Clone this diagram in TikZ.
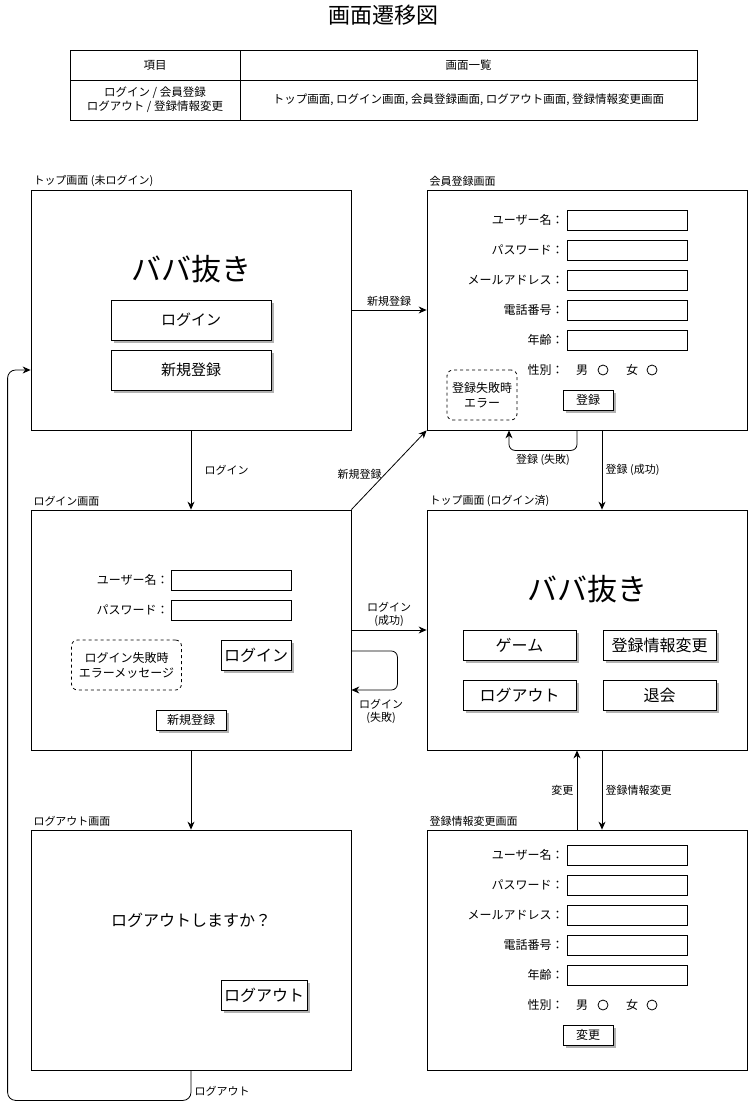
\documentclass[tikz,border=0pt]{standalone}
\usepackage{fontspec}
\setmainfont{Noto Sans CJK JP}
\usetikzlibrary{arrows.meta,shadows}

\begin{document}
\begin{tikzpicture}[x=1pt,y=-1pt,line width=0.8pt,
    >={Stealth[length=8pt,width=7pt]},
    screen/.style={draw,minimum width=320,minimum height=240},
    scrtitle/.style={font=\fontsize{11}{13}\selectfont,anchor=south west,inner sep=2.5pt},
    btn/.style={draw,fill=white,inner sep=0pt,
      drop shadow={shadow xshift=3pt,shadow yshift=-3pt,fill=black!30,opacity=1}},
    field/.style={draw,minimum width=120,minimum height=20,inner sep=0pt},
    flabel/.style={font=\fontsize{12}{14}\selectfont,anchor=east,inner sep=1pt},
    errbox/.style={draw,dashed,rounded corners=6pt,align=center,font=\fontsize{12}{15}\selectfont},
    lbl/.style={font=\fontsize{11}{13}\selectfont,align=center},
    cell/.style={draw,font=\fontsize{11.5}{14}\selectfont,align=center,inner sep=0pt}]
    \useasboundingbox (0,0) rectangle (748,1109);
    \node[font=\fontsize{22}{26}\selectfont] (title) at (383,15) {画面遷移図};
    % table
    \node[cell,minimum width=170,minimum height=30] (c11) at (155,65) {項目};
    \node[cell,minimum width=457,minimum height=30] (c12) at (468.5,65) {画面一覧};
    \node[cell,minimum width=170,minimum height=40] (c21) at (155,100) {ログイン / 会員登録\\ログアウト / 登録情報変更};
    \node[cell,minimum width=457,minimum height=40] (c22) at (468.5,100) {トップ画面, ログイン画面, 会員登録画面, ログアウト画面, 登録情報変更画面};
    % screens
    \node[screen] (top) at (191,310) {};
    \node[screen] (reg) at (587,310) {};
    \node[screen] (login) at (191,630) {};
    \node[screen] (home) at (587,630) {};
    \node[screen] (logout) at (191,950) {};
    \node[screen] (edit) at (587,950) {};
    \node[scrtitle] (ttop) at (top.north west) {トップ画面 (未ログイン)};
    \node[scrtitle] (treg) at (reg.north west) {会員登録画面};
    \node[scrtitle] (tlogin) at (login.north west) {ログイン画面};
    \node[scrtitle] (thome) at (home.north west) {トップ画面 (ログイン済)};
    \node[scrtitle] (tlogout) at (logout.north west) {ログアウト画面};
    \node[scrtitle] (tedit) at (edit.north west) {登録情報変更画面};
    % top (not logged in)
    \node[font=\fontsize{30}{36}\selectfont] (topname) at (191,269) {ババ抜き};
    \node[btn,minimum width=160,minimum height=40,font=\fontsize{15}{18}\selectfont] (topbtnlogin) at (191,320) {ログイン};
    \node[btn,minimum width=160,minimum height=40,font=\fontsize{15}{18}\selectfont] (topbtnnew) at (191,370) {新規登録};
    % member registration / edit
    \foreach \y/\t [count=\i] in {220/ユーザー名：,250/パスワード：,280/メールアドレス：,310/電話番号：,340/年齢：} {
      \node[flabel] (reglbl\i) at (565,\y) {\t};
      \node[field] (regfld\i) at (627,\y) {};
      \node[flabel] (editlbl\i) at (565,\y+635) {\t};
      \node[field] (editfld\i) at (627,\y+635) {};
    }
    \foreach \n/\y in {reg/370,edit/1005} {
      \node[flabel] (\n sex) at (565,\y) {性別：};
      \node[flabel,anchor=center] (\n male) at (582,\y) {男};
      \draw (603,\y) circle (5);
      \node[flabel,anchor=center] (\n female) at (632,\y) {女};
      \draw (652,\y) circle (5);
    }
    \node[errbox,minimum width=70,minimum height=50] (regerr) at (482,395) {登録失敗時\\エラー};
    \node[btn,minimum width=50,minimum height=20,font=\fontsize{12}{14}\selectfont] (regbtn) at (588,400) {登録};
    \node[btn,minimum width=50,minimum height=20,font=\fontsize{12}{14}\selectfont] (editbtn) at (588,1035) {変更};
    % login
    \node[flabel] (loginlbl1) at (170,580) {ユーザー名：};
    \node[field] (loginfld1) at (231.5,580) {};
    \node[flabel] (loginlbl2) at (170,610) {パスワード：};
    \node[field] (loginfld2) at (231.5,610) {};
    \node[errbox,minimum width=110,minimum height=50] (loginerr) at (126.5,665) {ログイン失敗時\\エラーメッセージ};
    \node[btn,minimum width=70,minimum height=30,font=\fontsize{16}{19}\selectfont] (loginbtn) at (256,655) {ログイン};
    \node[btn,minimum width=70,minimum height=20,font=\fontsize{12}{14}\selectfont] (loginbtnnew) at (191,720) {新規登録};
    % top (logged in)
    \node[font=\fontsize{30}{36}\selectfont] (homename) at (587,589) {ババ抜き};
    \foreach \n/\x/\y/\t in {game/519.5/645/ゲーム,info/659.5/645/登録情報変更,out/519.5/695/ログアウト,quit/659.5/695/退会}
      \node[btn,minimum width=113,minimum height=30,font=\fontsize{16}{19}\selectfont] (home\n) at (\x,\y) {\t};
    % logout
    \node[font=\fontsize{16}{19}\selectfont] (logoutmsg) at (191,920) {ログアウトしますか？};
    \node[btn,minimum width=86,minimum height=30,font=\fontsize{16}{19}\selectfont] (logoutbtn) at (264,995) {ログアウト};
    % transitions
    \draw[->] (top.east) -- node[lbl,above] {新規登録} (reg.west);
    \draw[->] (top.south) -- node[lbl,right=10pt] {ログイン} (login.north);
    \draw[->] (login.north east) -- node[lbl,left,pos=0.45] {新規登録} (reg.south west);
    \draw[->] (login.east) -- node[lbl,above] {ログイン\\(成功)} (home.west);
    \draw[->,rounded corners=6pt] ([yshift=-21pt]login.east) -- ++(46,0) -- ++(0,39) -- ([yshift=-60pt]login.east);
    \node[lbl] (lfail) at (381,711) {ログイン\\(失敗)};
    \draw[->,rounded corners=6pt] ([xshift=-10pt]reg.south) -- ++(0,20) -- node[lbl,below] {登録 (失敗)} ++(-68,0) -- ([xshift=-78pt]reg.south);
    \draw[->] ([xshift=15pt]reg.south) -- node[lbl,right] {登録 (成功)} ([xshift=15pt]home.north);
    \draw[->] ([xshift=15pt]home.south) -- node[lbl,right] {登録情報変更} ([xshift=15pt]edit.north);
    \draw[->] ([xshift=-10pt]edit.north) -- node[lbl,left] {変更} ([xshift=-10pt]home.south);
    \draw[->] (login.south) -- (logout.north);
    \draw[->,rounded corners=8pt] (logout.south) -- node[lbl,right,pos=0.7] {ログアウト} ++(0,30) -| ([xshift=-23pt,yshift=-60pt]top.west) -- ([yshift=-60pt]top.west);
\end{tikzpicture}
\end{document}
